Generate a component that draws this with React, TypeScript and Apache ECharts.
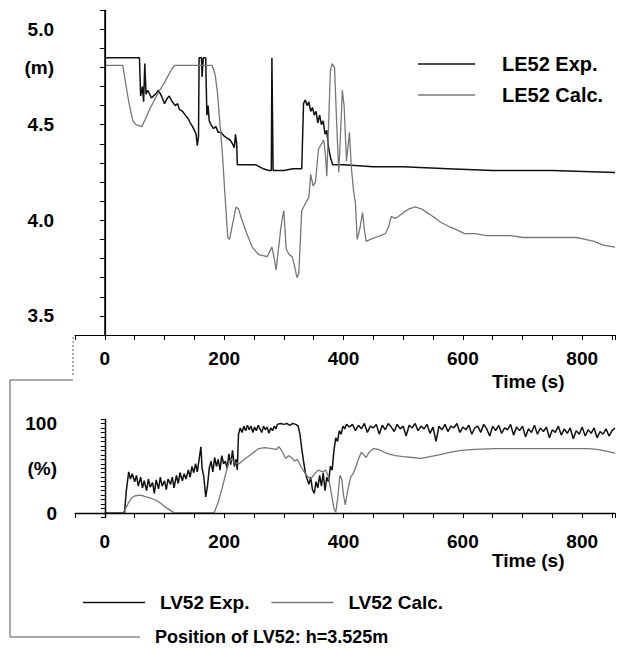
import React, { useEffect, useRef } from "react";
import * as echarts from "echarts";

// ---- Top plot: water level LE52 (m) ----
const le52Exp: [number, number][] = [
  [0, 4.85], [58, 4.85], [60, 4.65], [63, 4.7], [65, 4.62], [67, 4.82], [69, 4.66], [72, 4.68],
  [78, 4.64], [85, 4.66], [90, 4.68], [95, 4.65], [100, 4.61], [105, 4.64], [108, 4.65], [113, 4.62],
  [118, 4.6], [122, 4.61], [125, 4.58], [130, 4.57], [135, 4.55], [140, 4.53], [143, 4.51], [147, 4.49],
  [150, 4.47], [153, 4.45], [155, 4.39], [157, 4.44], [158, 4.85], [162, 4.85], [163, 4.75], [165, 4.85],
  [169, 4.85], [171, 4.55], [173, 4.6], [175, 4.52], [178, 4.5], [182, 4.48], [186, 4.49], [190, 4.46],
  [195, 4.46], [200, 4.44], [205, 4.43], [210, 4.42], [214, 4.4], [217, 4.38], [219, 4.45], [221, 4.4],
  [222, 4.29], [235, 4.29], [253, 4.29], [265, 4.27], [275, 4.26], [279, 4.26], [280, 4.85], [282, 4.26],
  [300, 4.26], [315, 4.27], [330, 4.27], [333, 4.61], [336, 4.63], [339, 4.6], [342, 4.62], [345, 4.57],
  [348, 4.59], [351, 4.55], [354, 4.57], [357, 4.51], [360, 4.55], [363, 4.5], [366, 4.52], [369, 4.45],
  [372, 4.47], [375, 4.38], [378, 4.33], [382, 4.29], [400, 4.29], [450, 4.28], [500, 4.28], [575, 4.27],
  [650, 4.26], [750, 4.26], [855, 4.25],
];

const le52Calc: [number, number][] = [
  [0, 4.81], [30, 4.81], [40, 4.62], [47, 4.52], [52, 4.5], [62, 4.49], [68, 4.53], [75, 4.58],
  [85, 4.64], [92, 4.68], [100, 4.72], [105, 4.75], [112, 4.79], [117, 4.81], [150, 4.81], [180, 4.81],
  [185, 4.76], [189, 4.66], [193, 4.5], [197, 4.35], [201, 4.15], [206, 3.91], [209, 3.9], [214, 3.98],
  [220, 4.07], [224, 4.06], [230, 4.0], [238, 3.93], [247, 3.86], [258, 3.82], [272, 3.81], [277, 3.84],
  [280, 3.86], [284, 3.8], [287, 3.74], [291, 3.85], [295, 3.96], [298, 4.02], [300, 4.05], [302, 3.95],
  [304, 3.85], [309, 3.82], [314, 3.81], [318, 3.76], [322, 3.7], [325, 3.72], [330, 4.05], [338, 4.1],
  [342, 4.12], [345, 4.24], [349, 4.18], [353, 4.2], [358, 4.37], [363, 4.4], [367, 4.42], [370, 4.33],
  [372, 4.23], [375, 4.5], [378, 4.78], [381, 4.82], [385, 4.8], [388, 4.55], [392, 4.25], [395, 4.45],
  [398, 4.68], [401, 4.6], [405, 4.31], [408, 4.4], [410, 4.46], [413, 4.28], [417, 4.15], [420, 4.09],
  [423, 3.9], [427, 3.95], [432, 4.04], [435, 3.95], [438, 3.89], [445, 3.9], [453, 3.91], [462, 3.92],
  [470, 3.93], [476, 3.97], [480, 4.02], [486, 4.01], [492, 4.02], [500, 4.04], [510, 4.06], [520, 4.07],
  [530, 4.06], [540, 4.04], [550, 4.02], [563, 3.99], [575, 3.97], [590, 3.95], [603, 3.93], [620, 3.93],
  [640, 3.92], [658, 3.92], [680, 3.92], [700, 3.91], [730, 3.91], [760, 3.91], [790, 3.91], [805, 3.9],
  [820, 3.89], [835, 3.87], [855, 3.86],
];

// ---- Bottom plot: valve opening LV52 (%) ----
const lv52Exp: [number, number][] = [
  [0, 0], [33, 0], [36, 25], [40, 46], [43, 38], [46, 44], [50, 35], [53, 42], [56, 30], [60, 40],
  [63, 28], [66, 36], [70, 25], [73, 38], [76, 29], [80, 34], [83, 22], [86, 37], [90, 27], [93, 40],
  [96, 30], [100, 36], [103, 26], [106, 38], [110, 32], [113, 40], [116, 28], [120, 42], [123, 33],
  [126, 45], [130, 36], [133, 44], [136, 38], [140, 48], [143, 40], [146, 52], [149, 45], [152, 55],
  [155, 46], [158, 60], [161, 74], [163, 50], [166, 40], [169, 18], [172, 30], [175, 50], [178, 58],
  [181, 46], [184, 62], [187, 52], [190, 60], [193, 48], [196, 64], [199, 55], [202, 58], [205, 50],
  [208, 66], [211, 54], [214, 70], [217, 52], [220, 60], [222, 48], [224, 88], [227, 95], [230, 90],
  [233, 97], [236, 92], [239, 98], [242, 93], [245, 97], [248, 90], [251, 96], [254, 92], [257, 98],
  [260, 94], [263, 90], [266, 97], [269, 93], [272, 96], [275, 89], [278, 95], [281, 92], [284, 97],
  [287, 94], [289, 99], [295, 100], [300, 99], [305, 100], [310, 98], [315, 100], [320, 99], [324, 97],
  [327, 88], [330, 72], [333, 58], [336, 45], [339, 38], [342, 32], [345, 40], [348, 26], [351, 22],
  [354, 35], [357, 28], [360, 42], [363, 30], [366, 45], [369, 25], [372, 40], [375, 35], [378, 52],
  [381, 48], [384, 70], [387, 84], [390, 80], [393, 92], [396, 88], [399, 97], [402, 94], [405, 99],
  [410, 96], [415, 99], [420, 92], [425, 98], [430, 94], [435, 100], [440, 90], [445, 97], [450, 95],
  [455, 99], [460, 88], [465, 98], [470, 93], [475, 100], [480, 96], [485, 91], [490, 99], [495, 94],
  [500, 97], [505, 86], [510, 98], [515, 95], [520, 100], [525, 92], [530, 97], [535, 94], [540, 99],
  [545, 89], [550, 96], [555, 80], [560, 97], [565, 93], [570, 99], [575, 91], [580, 97], [585, 95],
  [590, 100], [595, 90], [600, 96], [605, 93], [610, 98], [615, 88], [620, 95], [625, 97], [630, 90],
  [635, 99], [640, 94], [645, 86], [650, 97], [655, 92], [660, 98], [665, 89], [670, 95], [675, 93],
  [680, 99], [685, 87], [690, 96], [695, 92], [700, 97], [705, 85], [710, 94], [715, 90], [720, 98],
  [725, 88], [730, 95], [735, 91], [740, 96], [745, 84], [750, 93], [755, 90], [760, 97], [765, 87],
  [770, 94], [775, 89], [780, 95], [785, 83], [790, 92], [795, 88], [800, 96], [805, 86], [810, 93],
  [815, 89], [820, 95], [825, 84], [830, 91], [835, 88], [840, 94], [845, 86], [850, 92], [855, 95],
];

const lv52Calc: [number, number][] = [
  [0, 0], [30, 0], [35, 5], [40, 12], [45, 17], [50, 19], [58, 20], [65, 19], [75, 17], [87, 14],
  [95, 10], [103, 6], [110, 3], [117, 0], [183, 0], [190, 12], [197, 29], [203, 45], [208, 57],
  [212, 60], [218, 56], [225, 55], [232, 59], [242, 64], [250, 68], [258, 72], [268, 73], [280, 72],
  [287, 71], [292, 74], [296, 70], [300, 65], [303, 61], [308, 64], [313, 62], [318, 58], [322, 60],
  [325, 57], [330, 50], [338, 42], [345, 38], [352, 44], [358, 48], [365, 46], [370, 48], [375, 40],
  [380, 20], [384, 5], [387, 1], [390, 15], [394, 42], [397, 38], [400, 20], [403, 9], [407, 25],
  [412, 40], [416, 44], [420, 50], [425, 60], [430, 68], [434, 65], [438, 62], [443, 68], [450, 72],
  [458, 71], [465, 69], [475, 66], [487, 64], [500, 63], [515, 62], [530, 61], [545, 63], [560, 65],
  [580, 68], [597, 70], [620, 71], [653, 72], [700, 72], [750, 72], [790, 72], [810, 72], [825, 71],
  [840, 69], [855, 67],
];

const FONT = "Liberation Sans, Arial, Helvetica, sans-serif";
const EXP_COLOR = "#111";
const CALC_COLOR = "#777";

export default function App() {
  const ref = useRef<HTMLDivElement>(null);

  useEffect(() => {
    if (!ref.current) return;
    const chart = echarts.init(ref.current, undefined, { renderer: "svg" });

    const xAxisCommon = {
      type: "value" as const,
      min: -50,
      max: 855,
      interval: 50,
      axisLine: { lineStyle: { color: "#000", width: 1.2 } },
      axisTick: { length: 5, lineStyle: { color: "#000" } },
      splitLine: { show: false },
      axisLabel: {
        margin: 14,
        color: "#000",
        fontFamily: FONT,
        fontSize: 19,
        fontWeight: "bold" as const,
        formatter: (v: number) => (v >= 0 && Math.round(v) % 200 === 0 ? String(Math.round(v)) : ""),
      },
    };

    const option = {
      animation: false,
      backgroundColor: "#fff",
      textStyle: { fontFamily: FONT },
      grid: [
        { left: 75, top: 10, width: 543, height: 325 },
        { left: 75, top: 419, width: 543, height: 98.5 },
      ],
      xAxis: [
        { ...xAxisCommon, gridIndex: 0 },
        { ...xAxisCommon, gridIndex: 1 },
      ],
      yAxis: [
        {
          type: "value",
          gridIndex: 0,
          min: 3.4,
          max: 5.1,
          interval: 0.1,
          offset: 2,
          axisLine: { show: true, lineStyle: { color: "#000", width: 1.2 } },
          axisTick: { show: true, length: 5, lineStyle: { color: "#000" } },
          splitLine: { show: false },
          axisLabel: {
            margin: 19,
            color: "#000",
            fontFamily: FONT,
            fontSize: 19,
            fontWeight: "bold",
            formatter: (v: number) => {
              const r = Math.round(v * 10);
              if (r === 48) return "(m)";
              return r % 5 === 0 ? (r / 10).toFixed(1) : "";
            },
          },
        },
        {
          type: "value",
          gridIndex: 1,
          min: -5,
          max: 105,
          interval: 5,
          offset: 2,
          axisLine: { show: true, lineStyle: { color: "#000", width: 1.2 } },
          axisTick: { show: true, length: 4, lineStyle: { color: "#000" } },
          splitLine: { show: false },
          axisLabel: {
            margin: 16,
            color: "#000",
            fontFamily: FONT,
            fontSize: 19,
            fontWeight: "bold",
            formatter: (v: number) => {
              const r = Math.round(v);
              if (r === 0) return "0";
              if (r === 50) return "(%)";
              if (r === 100) return "100";
              return "";
            },
          },
        },
      ],
      legend: [
        {
          data: ["LE52 Exp.", "LE52 Calc."],
          orient: "vertical",
          left: 413,
          top: 49,
          icon: "rect",
          itemWidth: 57,
          itemHeight: 1.5,
          itemGap: 11,
          textStyle: { fontFamily: FONT, fontSize: 20, fontWeight: "bold", color: "#000", padding: [0, 0, 0, 22] },
        },
        {
          data: ["LV52 Exp.", "LV52 Calc."],
          orient: "horizontal",
          left: 78,
          top: 588,
          icon: "rect",
          itemWidth: 62,
          itemHeight: 1.5,
          itemGap: 22,
          textStyle: { fontFamily: FONT, fontSize: 19, fontWeight: "bold", color: "#000", padding: [0, 0, 0, 10] },
        },
      ],
      graphic: [
        {
          type: "text",
          left: 492,
          top: 372,
          style: { text: "Time (s)", font: `bold 19px ${FONT}`, fill: "#000" },
        },
        {
          type: "text",
          left: 492,
          top: 551,
          style: { text: "Time (s)", font: `bold 19px ${FONT}`, fill: "#000" },
        },
        {
          type: "text",
          left: 155,
          top: 628,
          style: { text: "Position of LV52: h=3.525m", font: `bold 18px ${FONT}`, fill: "#000" },
        },
        {
          type: "polyline",
          shape: { points: [[73, 337], [73, 375]] },
          style: { stroke: "#666", lineWidth: 1, lineDash: [2, 2] },
        },
        {
          type: "polyline",
          shape: { points: [[73, 380], [10, 380], [10, 637], [140, 637]] },
          style: { stroke: "#555", lineWidth: 1, fill: "none" },
        },
      ],
      series: [
        {
          name: "LE52 Exp.",
          type: "line",
          xAxisIndex: 0,
          yAxisIndex: 0,
          data: le52Exp,
          symbol: "none",
          lineStyle: { color: EXP_COLOR, width: 1.5 },
          itemStyle: { color: EXP_COLOR },
          markLine: {
            silent: true,
            symbol: "none",
            label: { show: false },
            lineStyle: { color: "#000", type: "solid", width: 1.5 },
            data: [{ xAxis: 0 }],
          },
        },
        {
          name: "LE52 Calc.",
          type: "line",
          xAxisIndex: 0,
          yAxisIndex: 0,
          data: le52Calc,
          symbol: "none",
          lineStyle: { color: CALC_COLOR, width: 1.3 },
          itemStyle: { color: CALC_COLOR },
        },
        {
          name: "LV52 Exp.",
          type: "line",
          xAxisIndex: 1,
          yAxisIndex: 1,
          data: lv52Exp,
          symbol: "none",
          lineStyle: { color: EXP_COLOR, width: 1.5 },
          itemStyle: { color: EXP_COLOR },
          markLine: {
            silent: true,
            symbol: "none",
            label: { show: false },
            lineStyle: { color: "#000", type: "solid", width: 1.3 },
            data: [{ xAxis: 0 }, { yAxis: 0 }],
          },
        },
        {
          name: "LV52 Calc.",
          type: "line",
          xAxisIndex: 1,
          yAxisIndex: 1,
          data: lv52Calc,
          symbol: "none",
          lineStyle: { color: CALC_COLOR, width: 1.3 },
          itemStyle: { color: CALC_COLOR },
        },
      ],
    };

    chart.setOption(option as any);
    return () => chart.dispose();
  }, []);

  return (
    <div
      ref={ref}
      style={{ position: "absolute", left: 0, top: 0, width: 618, height: 648 }}
    />
  );
}
